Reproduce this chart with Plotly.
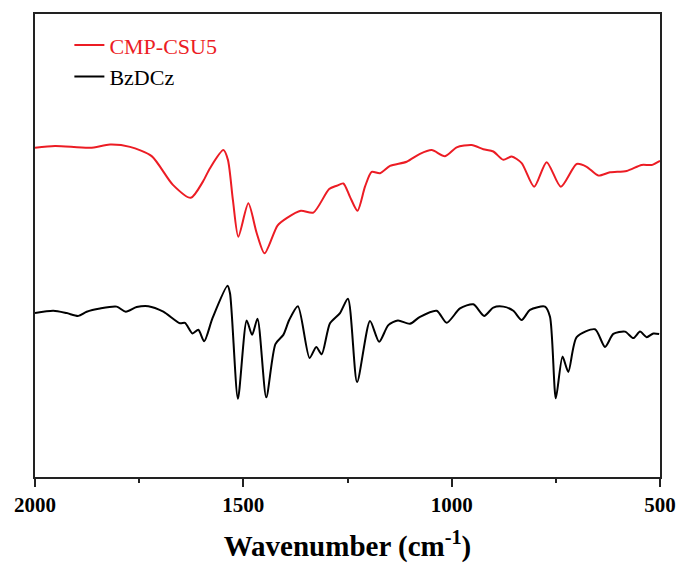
import plotly.graph_objects as go

# Wavenumber (cm-1) and relative transmittance (a.u.)
cmp_wn = [2000, 1952, 1868, 1820, 1772, 1720, 1669, 1626, 1597, 1580, 1548, 1537, 1525,
          1512, 1488, 1468, 1449, 1418, 1396, 1362, 1332, 1294, 1276, 1260, 1244, 1226,
          1208, 1192, 1172, 1148, 1108, 1076, 1048, 1016, 988, 952, 924, 900, 876, 856,
          832, 802, 772, 738, 700, 676, 648, 620, 580, 544, 520, 500]
cmp_t = [71.1, 71.5, 71.1, 71.8, 71.3, 69.3, 63.1, 60.3, 63.8, 66.7, 70.6, 68.5, 59.8,
         51.9, 59.1, 52.7, 48.3, 54.3, 55.9, 57.5, 57.1, 62.2, 62.9, 63.4, 60.5, 57.5,
         62.7, 65.9, 65.6, 67.2, 68.1, 69.8, 70.6, 69.3, 71.2, 71.7, 70.8, 70.3, 68.5, 69.2,
         67.8, 62.7, 68.0, 62.7, 67.6, 67.0, 65.1, 65.8, 66.1, 67.4, 67.4, 68.3]

bz_wn = [2000, 1956, 1924, 1896, 1876, 1844, 1804, 1782, 1756, 1728, 1692, 1652, 1640,
         1622, 1608, 1594, 1574, 1538, 1532, 1513, 1492, 1479, 1466, 1445, 1423, 1404,
         1390, 1369, 1341, 1325, 1312, 1292, 1268, 1249, 1227, 1196, 1174, 1152, 1129,
         1100, 1076, 1036, 1012, 980, 948, 922, 900, 876, 852, 832, 812, 776, 764, 750,
         734, 720, 700, 656, 632, 612, 584, 564, 548, 532, 516, 502]
bz_t = [35.4, 35.9, 35.4, 34.8, 35.7, 36.4, 36.8, 35.7, 36.7, 36.9, 35.7, 33.2, 33.3,
        31.0, 31.8, 29.3, 34.3, 41.3, 39.7, 16.9, 33.8, 30.7, 34.2, 17.2, 28.7, 30.7,
        33.9, 36.9, 25.7, 28.1, 26.5, 33.2, 35.4, 38.5, 20.5, 33.7, 29.2, 32.8, 33.8,
        33.1, 34.6, 35.9, 33.3, 36.4, 37.3, 34.8, 36.6, 36.8, 35.9, 33.9, 36.1, 36.8, 34.6, 17.0,
        26.0, 22.7, 30.2, 31.9, 28.1, 30.9, 31.4, 30.0, 31.4, 30.2, 31.0, 30.9]

x_ticks = [2000, 1500, 1000, 500]

FONT = "Liberation Serif"
RED = "rgb(236,28,36)"

fig = go.Figure()
fig.add_trace(go.Scatter(
    x=cmp_wn, y=cmp_t, mode="lines", name=f"<span style='color:{RED}'>CMP-CSU5</span>",
    line=dict(color=RED, width=2, shape="spline", smoothing=0.7), legendgroup="a"))
fig.add_trace(go.Scatter(
    x=bz_wn, y=bz_t, mode="lines", name="BzDCz",
    line=dict(color="black", width=2, shape="spline", smoothing=0.7), legendgroup="b"))

fig.update_layout(
    width=681, height=566,
    margin=dict(l=35, r=21, t=14, b=89, autoexpand=False),
    paper_bgcolor="white", plot_bgcolor="white",
    font=dict(family=FONT, color="black"),
    showlegend=True,
    legend=dict(x=0.055, y=0.978, xanchor="left", yanchor="top",
                font=dict(family=FONT, size=22, color="black"),
                bgcolor="rgba(0,0,0,0)", traceorder="grouped", tracegroupgap=0),
    xaxis=dict(
        range=[2000, 500], autorange=False, automargin=False,
        tickmode="array", tickvals=x_ticks, ticktext=[f"<b>{v}</b>" for v in x_ticks],
        ticks="outside", ticklen=8, tickwidth=1.5, tickcolor="#222",
        minor=dict(dtick=250, tick0=500, ticks="outside", ticklen=4, tickwidth=1.5, tickcolor="#222"),
        tickfont=dict(family=FONT, size=21, color="black"),
        showline=True, linecolor="#222", linewidth=1.8, mirror=True,
        showgrid=False, zeroline=False,
        title=dict(text="<b>Wavenumber (cm<sup>-1</sup>)</b>",
                   font=dict(family=FONT, size=29, color="black"), standoff=20),
    ),
    yaxis=dict(
        range=[0, 100], autorange=False, automargin=False,
        showticklabels=False, ticks="",
        showline=True, linecolor="#222", linewidth=1.8, mirror=True,
        showgrid=False, zeroline=False,
    ),
)

fig.write_html("out.html")
